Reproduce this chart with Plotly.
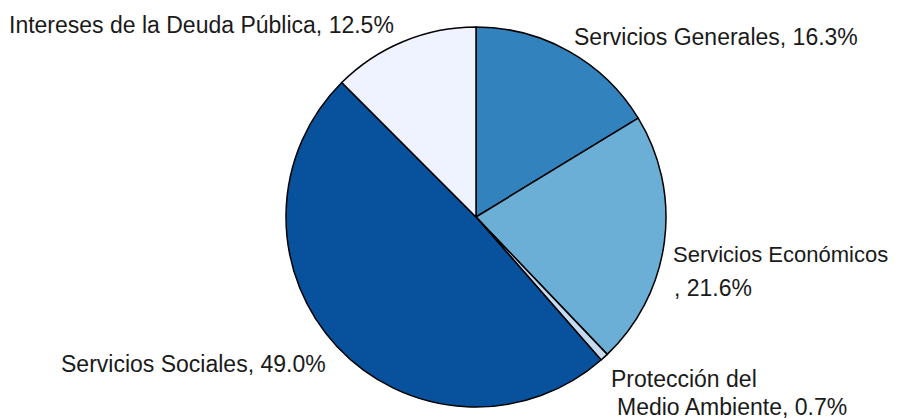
import plotly.graph_objects as go

categories = ["Servicios Generales", "Servicios Económicos", "Protección del Medio Ambiente",
              "Servicios Sociales", "Intereses de la Deuda Pública"]
values = [16.3, 21.6, 0.7, 49.0, 12.5]
colors = ["#3182bd", "#6baed6", "#c6dbef", "#08519c", "#eff3ff"]

# page body has an 8px margin; figure sized to reach the window's right/bottom edge
OFF = 8
W, H = 902 - OFF, 419 - OFF
cx, cy, r = 476 - OFF, 217 - OFF, 190

fig = go.Figure(go.Pie(
    labels=categories, values=values, sort=False, direction="clockwise", rotation=0,
    marker=dict(colors=colors, line=dict(color="#000000", width=1.5)),
    textinfo="none", hoverinfo="label+percent", showlegend=False,
    domain=dict(x=[(cx - r) / W, (cx + r) / W], y=[(H - cy - r) / H, (H - cy + r) / H]),
))

# label lines: (text, left x px, center y px, font size) in window coordinates
label_lines = [
    ("Intereses de la Deuda Pública, 12.5%", 7, 25, 23),
    ("Servicios Generales, 16.3%", 572, 37, 23),
    ("Servicios Económicos", 671, 254, 22),
    (", 21.6%", 672, 288, 23),
    ("Protección del", 609, 379, 23),
    ("Medio Ambiente, 0.7%", 615, 407, 23),
    ("Servicios Sociales, 49.0%", 59, 364, 23),
]
for t, x, y, s in label_lines:
    fig.add_annotation(text=t, x=(x - OFF) / W, y=1 - (y - OFF) / H, xref="paper", yref="paper",
                       xanchor="left", yanchor="middle", showarrow=False,
                       font=dict(family="Liberation Sans, Arial", size=s, color="#1a1a1a"))

fig.update_layout(width=W, height=H, margin=dict(l=0, r=0, t=0, b=0),
                  paper_bgcolor="white", plot_bgcolor="white")
fig.write_html("out.html")
